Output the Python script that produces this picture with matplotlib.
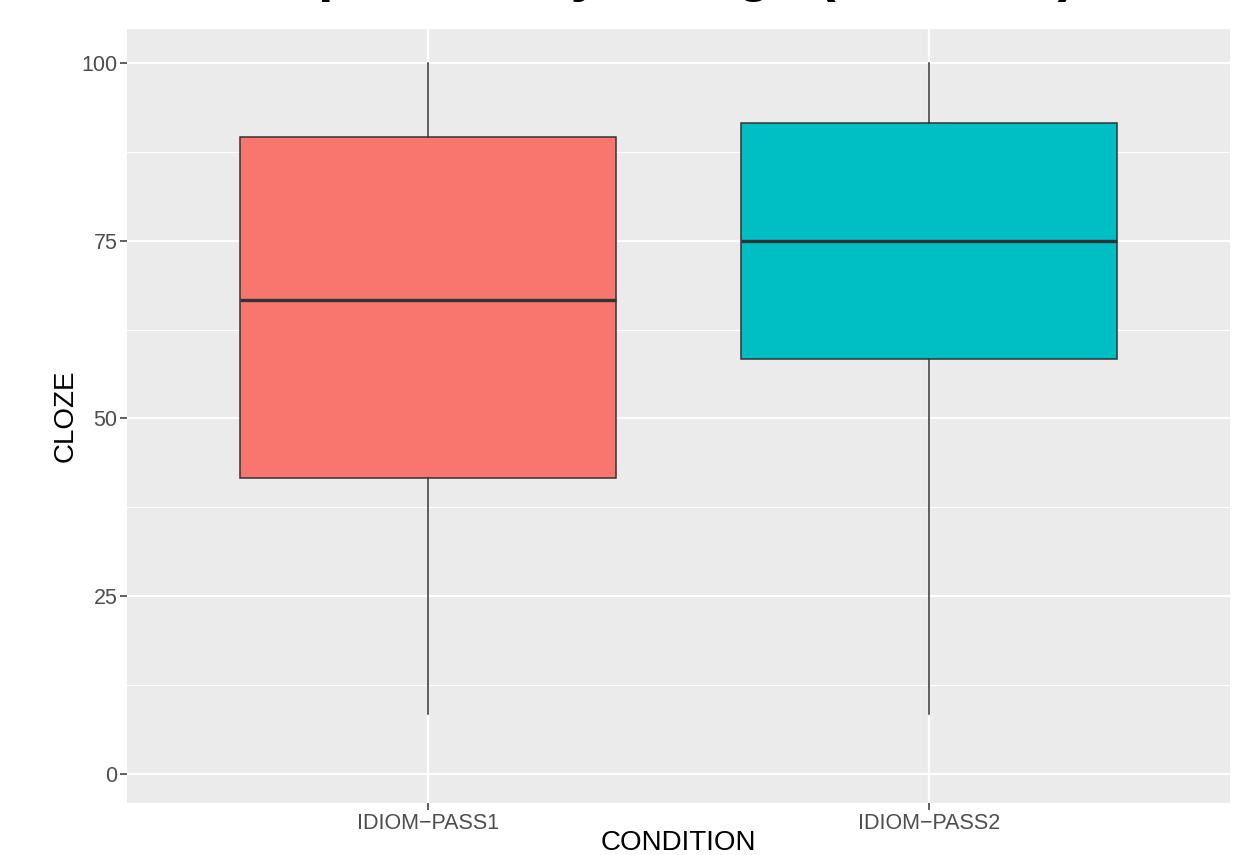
import matplotlib
matplotlib.use("Agg")
import matplotlib.pyplot as plt
from matplotlib.ticker import MultipleLocator

plt.rcParams['font.family'] = ['Liberation Sans', 'DejaVu Sans']

# summary stats per condition (cloze %, five-number summaries)
conditions = ['IDIOM\u2212PASS1', 'IDIOM\u2212PASS2']
whisker_low = [8.33, 8.33]
q1 = [41.67, 58.33]
median = [66.67, 75.0]
q3 = [89.58, 91.67]
whisker_high = [100.0, 100.0]
fill_colors = ['#F8766D', '#00BFC4']

title = 'Cloze probability ratings (all items)'

W, H = 1260, 855
fig = plt.figure(figsize=(W / 100, H / 100), dpi=100)
ax = fig.add_axes([127 / W, (H - 803) / H, (1230 - 127) / W, (803 - 29) / H])

ax.set_facecolor('#EBEBEB')
for s in ax.spines.values():
    s.set_visible(False)

stats = []
for i, name in enumerate(conditions):
    stats.append(dict(label=name, whislo=whisker_low[i], q1=q1[i], med=median[i],
                      q3=q3[i], whishi=whisker_high[i], fliers=[]))

positions = list(range(1, len(conditions) + 1))
bp = ax.bxp(stats, positions=positions, widths=0.75, showcaps=False,
            showfliers=False, patch_artist=True,
            boxprops=dict(edgecolor='#333333', linewidth=1.1),
            whiskerprops=dict(color='#333333', linewidth=1.1),
            medianprops=dict(color='#333333', linewidth=2.4, solid_capstyle='butt'),
            zorder=3)
for patch, c in zip(bp['boxes'], fill_colors):
    patch.set_facecolor(c)

ax.set_xlim(0.4, len(conditions) + 0.6)
ax.set_ylim(-4.15, 104.85)
ax.yaxis.set_major_locator(MultipleLocator(25))
ax.yaxis.set_minor_locator(MultipleLocator(12.5))
ax.set_xticks(positions)
ax.set_xticklabels(conditions)

ax.grid(which='major', color='white', linewidth=1.6, zorder=0)
ax.grid(which='minor', axis='y', color='white', linewidth=0.8, zorder=0)
ax.set_axisbelow(True)

ax.tick_params(axis='both', which='major', length=5, width=1.1, color='#333333',
               labelsize=15.5, labelcolor='#4D4D4D', pad=2)
ax.tick_params(axis='y', which='minor', length=0)

ax.set_xlabel('CONDITION', fontsize=20, color='black', va='center')
ax.xaxis.set_label_coords(0.5, -0.052)
ax.set_ylabel('CLOZE', fontsize=20, color='black', va='center')
ax.yaxis.set_label_coords(-0.056, 0.5)

# title sits mostly above the canvas, only its descenders show
fig.text(155 / W, 1.0 + 10 / H, title, fontsize=40, fontweight='bold',
         ha='left', va='baseline', color='black')

fig.savefig('out.png', dpi=100)
